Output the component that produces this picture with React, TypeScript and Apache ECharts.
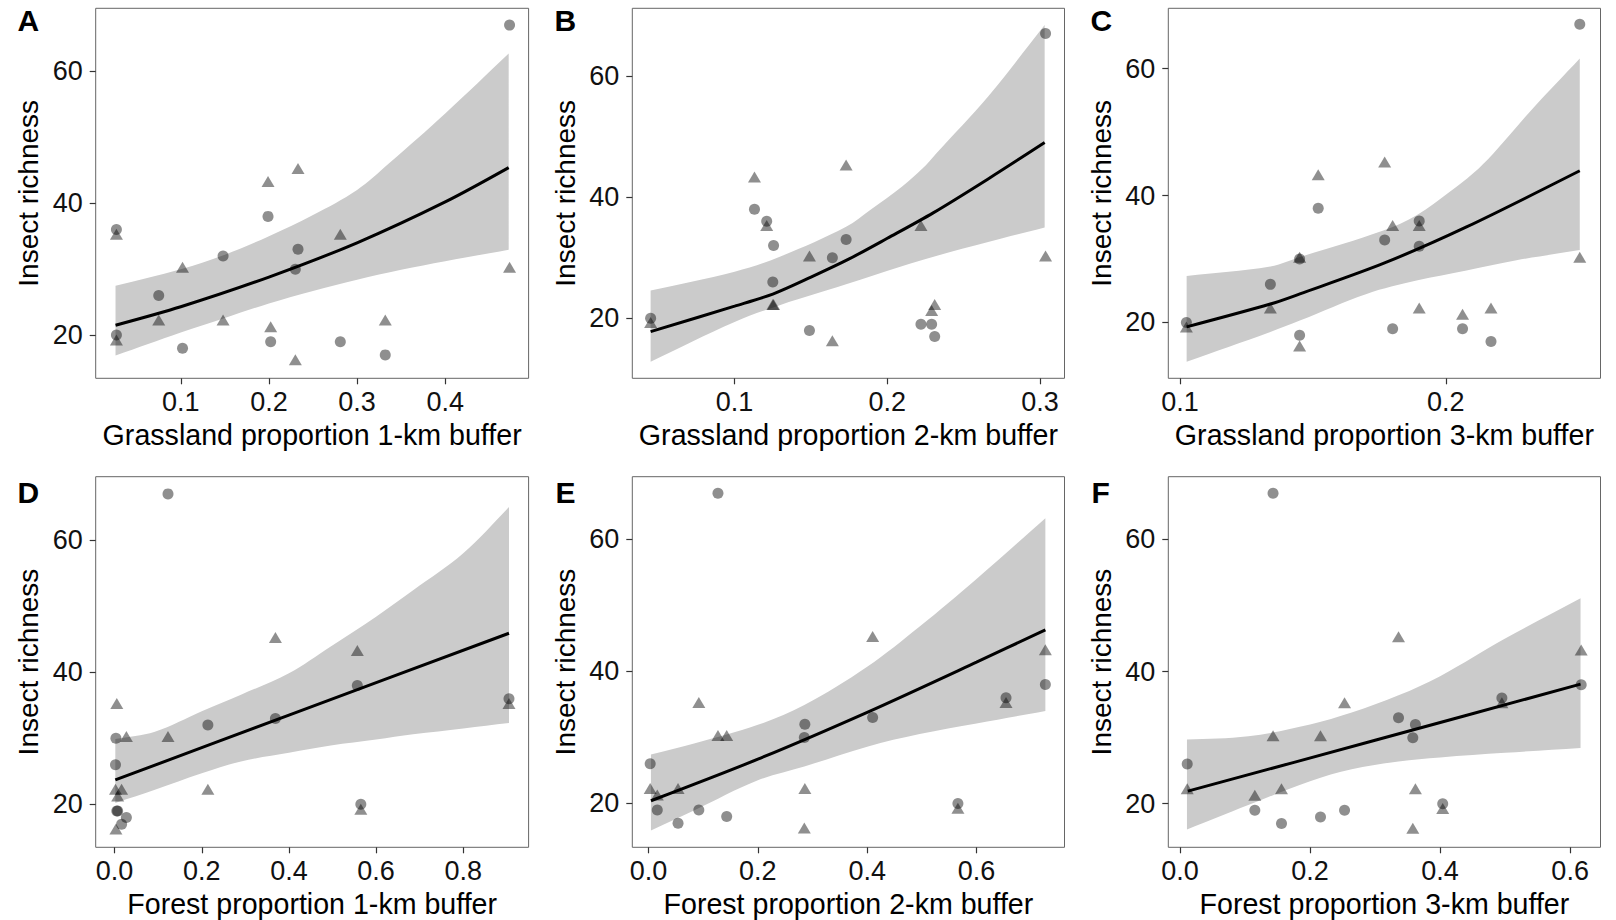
import React, { useEffect, useRef } from "react";
import * as echarts from "echarts";

// ---- data (12 sites; each site has a circle and a triangle observation) ----
const circleRichness = [36, 26, 20, 18, 32, 38, 19, 33, 30, 19, 17, 67];
const triangleRichness = [35, 22, 19, 30, 22, 43, 21, 45, 16, 35, 22, 30];

const grass1km = [0.027, 0.075, 0.027, 0.102, 0.148, 0.199, 0.202, 0.233, 0.23, 0.281, 0.332, 0.473];
const grass2km = [0.121, 0.125, 0.045, 0.149, 0.1255, 0.113, 0.229, 0.173, 0.164, 0.222, 0.231, 0.3036];
const grass3km = [0.19, 0.134, 0.1024, 0.145, 0.19, 0.152, 0.2063, 0.177, 0.145, 0.18, 0.217, 0.2504];
const forest1km = [0.905, 0.002, 0.565, 0.027, 0.214, 0.557, 0.007, 0.369, 0.003, 0.005, 0.016, 0.1225];
const forest2km = [0.654, 0.003, 0.566, 0.143, 0.286, 0.726, 0.016, 0.41, 0.285, 0.092, 0.054, 0.127];
const forest3km = [0.495, 0.011, 0.404, 0.216, 0.362, 0.617, 0.115, 0.336, 0.358, 0.253, 0.156, 0.143];

// fitted lines
const fitA_x = [0.026, 0.1, 0.2, 0.3, 0.4, 0.472];
const fitA_y = [21.5, 24.3, 28.8, 34.0, 40.2, 45.4];
const fitB_x = [0.045, 0.1, 0.125, 0.15, 0.175, 0.2, 0.23, 0.266, 0.303];
const fitB_y = [17.8, 22.0, 24.0, 26.8, 29.8, 33.2, 37.4, 43.0, 49.0];
const fitC_x = [0.1025, 0.134, 0.1451, 0.1765, 0.2078, 0.2504];
const fitC_y = [19.3, 22.9, 24.5, 29.3, 35.05, 43.9];
const fitD_x = [0.0016, 0.4, 0.905];
const fitD_y = [23.7, 33.5, 45.9];
const fitE_x = [0.0044, 0.2, 0.4, 0.6, 0.726];
const fitE_y = [20.4, 26.7, 33.8, 41.4, 46.3];
const fitF_x = [0.012, 0.3, 0.616];
const fitF_y = [21.9, 29.6, 38.1];

// confidence bands: upper edge (x, y) and lower edge (x, y)
const bandA_hiX = [0.026, 0.1, 0.15, 0.2, 0.25, 0.3, 0.336, 0.4, 0.472];
const bandA_hiY = [27.5, 30.0, 32.2, 35.0, 38.2, 42.0, 46.0, 53.6, 62.7];
const bandA_loX = [0.026, 0.1, 0.15, 0.2, 0.25, 0.3, 0.35, 0.4, 0.472];
const bandA_loY = [16.9, 20.4, 22.6, 24.8, 26.7, 28.4, 29.9, 31.2, 32.95];

const bandB_hiX = [0.045, 0.1, 0.13, 0.173, 0.189, 0.2095, 0.223, 0.232, 0.266, 0.303];
const bandB_hiY = [24.6, 27.7, 30.2, 35.1, 37.9, 41.7, 44.7, 47.2, 56.6, 68.4];
const bandB_loX = [0.045, 0.1, 0.13, 0.173, 0.2095, 0.232, 0.266, 0.303];
const bandB_loY = [12.85, 19.4, 22.2, 25.6, 28.6, 30.3, 32.6, 35.0];

const bandC_hiX = [0.1025, 0.134, 0.1451, 0.1765, 0.189, 0.2015, 0.2103, 0.2178, 0.2329, 0.2504];
const bandC_hiY = [27.3, 28.8, 30.3, 34.5, 36.9, 40.6, 43.5, 46.6, 53.8, 61.6];
const bandC_loX = [0.1025, 0.134, 0.1451, 0.1702, 0.189, 0.2078, 0.2266, 0.2504];
const bandC_loY = [13.8, 18.5, 20.3, 24.5, 26.6, 28.2, 29.8, 31.4];

const bandD_hiX = [0.0016, 0.0925, 0.2, 0.29, 0.4, 0.496, 0.6, 0.685, 0.8, 0.905];
const bandD_hiY = [29.9, 31.0, 34.1, 36.6, 39.85, 43.9, 48.4, 52.4, 58.0, 65.0];
const bandD_loX = [0.0016, 0.0925, 0.2, 0.29, 0.4, 0.496, 0.6, 0.685, 0.8, 0.905];
const bandD_loY = [20.2, 22.2, 24.7, 26.5, 27.8, 28.9, 29.8, 30.6, 31.5, 32.3];

const bandE_hiX = [0.0044, 0.085, 0.2, 0.285, 0.4, 0.496, 0.6, 0.726];
const bandE_hiY = [27.4, 29.1, 31.9, 34.9, 40.7, 46.8, 54.0, 63.2];
const bandE_loX = [0.0044, 0.085, 0.2, 0.285, 0.4, 0.496, 0.6, 0.726];
const bandE_loY = [15.9, 19.0, 23.5, 25.6, 28.6, 30.5, 32.1, 34.0];

const bandF_hiX = [0.0106, 0.105, 0.2, 0.264, 0.336, 0.4, 0.5, 0.616];
const bandF_hiY = [29.7, 30.2, 32.0, 33.8, 36.4, 39.3, 45.0, 51.1];
const bandF_loX = [0.0106, 0.105, 0.2, 0.264, 0.336, 0.4, 0.5, 0.616];
const bandF_loY = [16.1, 19.8, 23.4, 25.2, 26.4, 27.0, 27.7, 28.45];

// tick values
const ticksA = [0.1, 0.2, 0.3, 0.4];
const ticksB = [0.1, 0.2, 0.3];
const ticksC = [0.1, 0.2];
const ticksD = [0, 0.2, 0.4, 0.6, 0.8];
const ticksE = [0, 0.2, 0.4, 0.6];
const ticksF = [0, 0.2, 0.4, 0.6];
const yTicks = [20, 40, 60];

const yTitle = "Insect richness";
const letters = ["A", "B", "C", "D", "E", "F"];
const xTitles = [
  "Grassland proportion 1-km buffer",
  "Grassland proportion 2-km buffer",
  "Grassland proportion 3-km buffer",
  "Forest proportion 1-km buffer",
  "Forest proportion 2-km buffer",
  "Forest proportion 3-km buffer",
];

// ---- layout / styles ----
const FONT = "'Liberation Sans', Arial, Helvetica, sans-serif";
const POINT = "rgba(0,0,0,0.55)";
const BAND = "#cbcbcb";

const layouts = [
  { left: 95.7, top: 8.3, width: 432.9, height: 370, xMin: 0.0035, xMax: 0.4946, yMin: 13.45, yMax: 69.55, lx: 17.5, ly: 5.6 },
  { left: 632.3, top: 8.3, width: 432.2, height: 370, xMin: 0.033, xMax: 0.316, yMin: 10.1, yMax: 71.15, lx: 554.5, ly: 5.6 },
  { left: 1168.3, top: 8.3, width: 432.2, height: 370, xMin: 0.0956, xMax: 0.2582, yMin: 11.2, yMax: 69.5, lx: 1090.5, ly: 5.6 },
  { left: 95.7, top: 476.7, width: 432.9, height: 370.6, xMin: -0.0434, xMax: 0.95, yMin: 13.5, yMax: 69.6, lx: 17.6, ly: 477 },
  { left: 632.3, top: 476.7, width: 432.2, height: 370.6, xMin: -0.0297, xMax: 0.761, yMin: 13.35, yMax: 69.5, lx: 555.5, ly: 477 },
  { left: 1168.3, top: 476.7, width: 432.2, height: 370.6, xMin: -0.0181, xMax: 0.6467, yMin: 13.4, yMax: 69.5, lx: 1091.5, ly: 477 },
];

const panelData = [
  { x: grass1km, ticks: ticksA, fx: fitA_x, fy: fitA_y, hx: bandA_hiX, hy: bandA_hiY, lx: bandA_loX, ly: bandA_loY },
  { x: grass2km, ticks: ticksB, fx: fitB_x, fy: fitB_y, hx: bandB_hiX, hy: bandB_hiY, lx: bandB_loX, ly: bandB_loY },
  { x: grass3km, ticks: ticksC, fx: fitC_x, fy: fitC_y, hx: bandC_hiX, hy: bandC_hiY, lx: bandC_loX, ly: bandC_loY },
  { x: forest1km, ticks: ticksD, fx: fitD_x, fy: fitD_y, hx: bandD_hiX, hy: bandD_hiY, lx: bandD_loX, ly: bandD_loY },
  { x: forest2km, ticks: ticksE, fx: fitE_x, fy: fitE_y, hx: bandE_hiX, hy: bandE_hiY, lx: bandE_loX, ly: bandE_loY },
  { x: forest3km, ticks: ticksF, fx: fitF_x, fy: fitF_y, hx: bandF_hiX, hy: bandF_hiY, lx: bandF_loX, ly: bandF_loY },
];

function buildOption() {
  const grid: any[] = [];
  const xAxis: any[] = [];
  const yAxis: any[] = [];
  const series: any[] = [];
  const graphic: any[] = [];

  panelData.forEach((p, i) => {
    const L = layouts[i];
    grid.push({
      left: L.left,
      top: L.top,
      width: L.width,
      height: L.height,
      show: true,
      borderColor: "#666",
      borderWidth: 1,
      backgroundColor: "rgba(0,0,0,0)",
    });
    xAxis.push({
      gridIndex: i,
      type: "value",
      min: L.xMin,
      max: L.xMax,
      name: xTitles[i],
      nameLocation: "middle",
      nameGap: 42,
      nameTextStyle: { fontSize: 28.6, fontFamily: FONT, color: "#000" },
      axisLine: { show: false, onZero: false },
      splitLine: { show: false },
      axisTick: { show: true, length: 6, customValues: p.ticks, lineStyle: { color: "#333", width: 1.2 } },
      axisLabel: {
        customValues: p.ticks,
        formatter: (v: number) => v.toFixed(1),
        fontSize: 27,
        fontFamily: FONT,
        color: "#111",
        margin: 10,
      },
    });
    yAxis.push({
      gridIndex: i,
      type: "value",
      min: L.yMin,
      max: L.yMax,
      name: yTitle,
      nameLocation: "middle",
      nameGap: 53,
      nameTextStyle: { fontSize: 28, fontFamily: FONT, color: "#000" },
      axisLine: { show: false, onZero: false },
      splitLine: { show: false },
      axisTick: { show: true, length: 6, customValues: yTicks, lineStyle: { color: "#333", width: 1.2 } },
      axisLabel: {
        customValues: yTicks,
        formatter: (v: number) => String(v),
        fontSize: 27,
        fontFamily: FONT,
        color: "#111",
        margin: 13,
      },
    });

    const hx = p.hx, hy = p.hy, lxs = p.lx, lys = p.ly;
    series.push({
      type: "custom",
      xAxisIndex: i,
      yAxisIndex: i,
      silent: true,
      z: 1,
      data: hx.map((x, k) => [x, hy[k]]),
      encode: { x: 0, y: 1 },
      renderItem: (params: any, api: any) => {
        if (params.dataIndex !== 0) return null;
        const pts: number[][] = [];
        const n = hx.length;
        for (let k = 0; k < n; k++) {
          const c = api.coord([hx[k], hy[k]]);
          pts.push(c);
          if (k === 0 || k === n - 1) pts.push([c[0], c[1]]);
        }
        const m = lxs.length;
        for (let k = m - 1; k >= 0; k--) {
          const c = api.coord([lxs[k], lys[k]]);
          pts.push(c);
          if (k === 0 || k === m - 1) pts.push([c[0], c[1]]);
        }
        return {
          type: "polygon",
          shape: { points: pts, smooth: 0.35 },
          style: { fill: BAND, stroke: null },
        };
      },
    });
    series.push({
      type: "line",
      xAxisIndex: i,
      yAxisIndex: i,
      data: p.fx.map((x, k) => [x, p.fy[k]]),
      smooth: 0.3,
      symbol: "none",
      silent: true,
      z: 3,
      lineStyle: { color: "#000", width: 3 },
    });
    series.push({
      type: "scatter",
      xAxisIndex: i,
      yAxisIndex: i,
      data: p.x.map((x, k) => [x, circleRichness[k]]),
      symbol: "circle",
      symbolSize: 11,
      silent: true,
      z: 4,
      itemStyle: { color: POINT },
    });
    series.push({
      type: "scatter",
      xAxisIndex: i,
      yAxisIndex: i,
      data: p.x.map((x, k) => [x, triangleRichness[k]]),
      symbol: "triangle",
      symbolSize: [13, 11],
      symbolOffset: [0, -1.8],
      silent: true,
      z: 4,
      itemStyle: { color: POINT },
    });

    graphic.push({
      type: "text",
      left: L.lx,
      top: L.ly,
      style: { text: letters[i], font: `bold 30px ${FONT}`, fill: "#000" },
    });
  });

  return {
    animation: false,
    backgroundColor: "#fff",
    grid,
    xAxis,
    yAxis,
    series,
    graphic,
  };
}

export default function App() {
  const ref = useRef<HTMLDivElement>(null);
  useEffect(() => {
    if (!ref.current) return;
    const chart = echarts.init(ref.current, null, { renderer: "svg" });
    chart.setOption(buildOption() as any);
    return () => chart.dispose();
  }, []);
  return (
    <div
      ref={ref}
      style={{ position: "absolute", left: 0, top: 0, width: 1616, height: 920, background: "#fff" }}
    />
  );
}
